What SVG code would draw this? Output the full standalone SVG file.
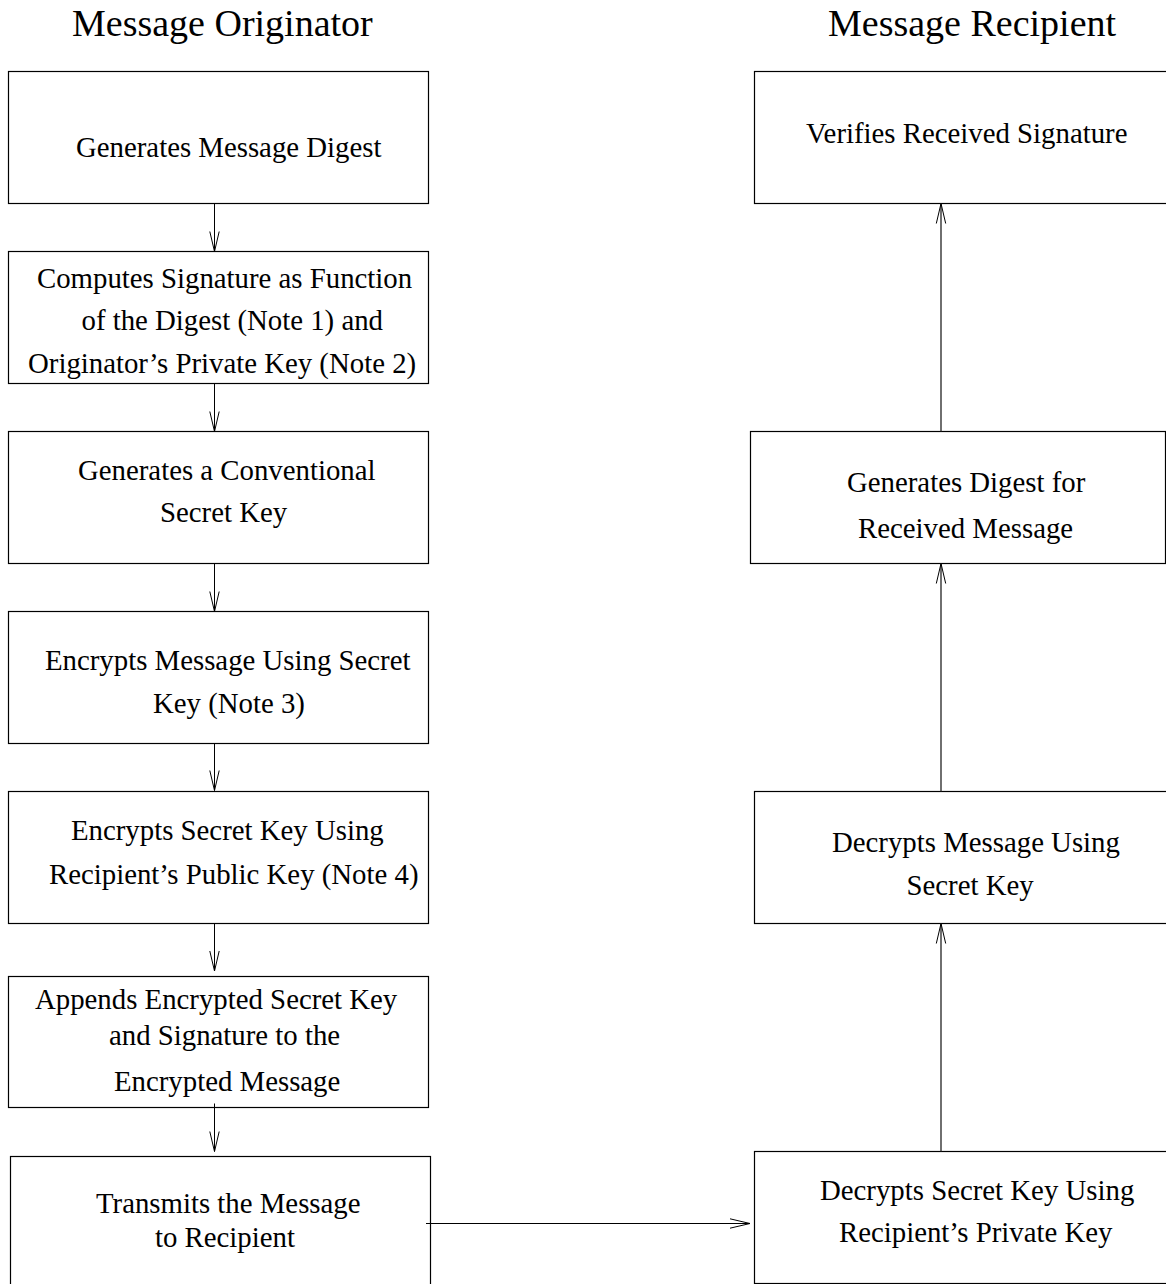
<svg xmlns="http://www.w3.org/2000/svg" width="1166" height="1284" viewBox="0 0 1166 1284">
  <style>
    .box { fill: #fff; stroke: #000; stroke-width: 1.2; }
    .lbl { font-family: "Liberation Serif", "Times New Roman", serif; font-size: 28.8px; fill: #000; }
    .title { font-family: "Liberation Serif", "Times New Roman", serif; font-size: 38px; fill: #000; }
    .conn { fill: none; stroke: #000; stroke-width: 1; }
    .conn-r { fill: none; stroke: #222; stroke-width: 1.3; }
  </style>
  <defs>
    <marker id="vhead" viewBox="-22 -6 23 12" markerWidth="23" markerHeight="12" refX="0" refY="0" markerUnits="userSpaceOnUse" orient="auto">
      <path d="M -20 -4.7 L 0 0 L -20 4.7" fill="none" stroke="#000" stroke-width="1"/>
    </marker>
  </defs>
  <rect width="1166" height="1284" fill="#fff"/>

  <!-- column headings -->
  <text class="title" x="72" y="36">Message Originator</text>
  <text class="title" x="828" y="36">Message Recipient</text>

  <!-- originator side -->
  <g id="gen-digest">
    <rect class="box" x="8.5" y="71.5" width="420" height="132"/>
    <text class="lbl" x="76" y="157">Generates Message Digest</text>
  </g>
  <g id="compute-sig">
    <rect class="box" x="8.5" y="251.5" width="420" height="132"/>
    <text class="lbl" x="37" y="288">Computes Signature as Function</text>
    <text class="lbl" x="81.5" y="330">of the Digest (Note 1) and</text>
    <text class="lbl" x="28" y="373">Originator&#8217;s Private Key (Note 2)</text>
  </g>
  <g id="gen-secret">
    <rect class="box" x="8.5" y="431.5" width="420" height="132"/>
    <text class="lbl" x="78" y="480">Generates a Conventional</text>
    <text class="lbl" x="160" y="521.5">Secret Key</text>
  </g>
  <g id="encrypt-msg">
    <rect class="box" x="8.5" y="611.5" width="420" height="132"/>
    <text class="lbl" x="45" y="670">Encrypts Message Using Secret</text>
    <text class="lbl" x="153" y="713">Key (Note 3)</text>
  </g>
  <g id="encrypt-key">
    <rect class="box" x="8.5" y="791.5" width="420" height="132"/>
    <text class="lbl" x="71" y="840">Encrypts Secret Key Using</text>
    <text class="lbl" x="49" y="883.5">Recipient&#8217;s Public Key (Note 4)</text>
  </g>
  <g id="append">
    <rect class="box" x="8.5" y="976.5" width="420" height="131"/>
    <text class="lbl" x="35" y="1009">Appends Encrypted Secret Key</text>
    <text class="lbl" x="109" y="1045">and Signature to the</text>
    <text class="lbl" x="114" y="1090.5">Encrypted Message</text>
  </g>
  <g id="transmit">
    <rect class="box" x="10.5" y="1156.5" width="420" height="140"/>
    <text class="lbl" x="96" y="1213">Transmits the Message</text>
    <text class="lbl" x="155" y="1246.5">to Recipient</text>
  </g>

  <!-- recipient side -->
  <g id="verify-sig">
    <rect class="box" x="754.5" y="71.5" width="420" height="132"/>
    <text class="lbl" x="806" y="143">Verifies Received Signature</text>
  </g>
  <g id="recv-digest">
    <rect class="box" x="750.5" y="431.5" width="415" height="132"/>
    <text class="lbl" x="847" y="491.5">Generates Digest for</text>
    <text class="lbl" x="858" y="538">Received Message</text>
  </g>
  <g id="decrypt-msg">
    <rect class="box" x="754.5" y="791.5" width="420" height="132"/>
    <text class="lbl" x="832" y="851.5">Decrypts Message Using</text>
    <text class="lbl" x="906.5" y="895">Secret Key</text>
  </g>
  <g id="decrypt-key">
    <rect class="box" x="754.5" y="1151.5" width="420" height="132"/>
    <text class="lbl" x="820" y="1200">Decrypts Secret Key Using</text>
    <text class="lbl" x="839" y="1241.5">Recipient&#8217;s Private Key</text>
  </g>

  <!-- connectors -->
  <g id="connectors">
    <line class="conn" x1="214.5" y1="203.5" x2="214.5" y2="251.5" marker-end="url(#vhead)"/>
    <line class="conn" x1="214.5" y1="383.5" x2="214.5" y2="431.5" marker-end="url(#vhead)"/>
    <line class="conn" x1="214.5" y1="563.5" x2="214.5" y2="611.5" marker-end="url(#vhead)"/>
    <line class="conn" x1="214.5" y1="743.5" x2="214.5" y2="790.5" marker-end="url(#vhead)"/>
    <line class="conn" x1="214.5" y1="923.5" x2="214.5" y2="971" marker-end="url(#vhead)"/>
    <line class="conn" x1="214.5" y1="1103.5" x2="214.5" y2="1151.5" marker-end="url(#vhead)"/>
    <line class="conn" x1="426" y1="1223.5" x2="750" y2="1223.5" marker-end="url(#vhead)"/>
    <line class="conn-r" x1="941" y1="1151.5" x2="941" y2="923.5" marker-end="url(#vhead)"/>
    <line class="conn-r" x1="941" y1="791.5" x2="941" y2="563.5" marker-end="url(#vhead)"/>
    <line class="conn-r" x1="941" y1="431.5" x2="941" y2="203.5" marker-end="url(#vhead)"/>
  </g>
</svg>
